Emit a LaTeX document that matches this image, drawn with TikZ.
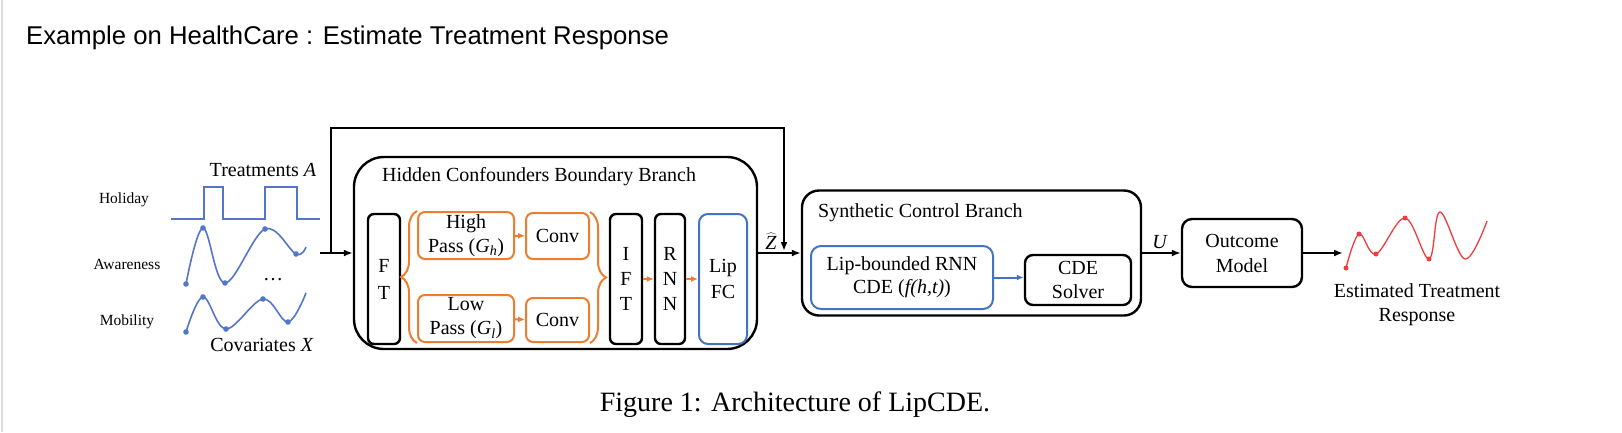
\documentclass[tikz,border=0pt]{standalone}
\usepackage{fontspec}
\setmainfont{Liberation Serif}
\newfontfamily\titlefont{Liberation Sans}
\usetikzlibrary{arrows.meta,decorations.pathreplacing}

\definecolor{lcorange}{RGB}{237,125,49}
\definecolor{lcblue}{RGB}{68,114,196}
\definecolor{lccurve}{RGB}{84,118,200}
\definecolor{lcred}{RGB}{240,60,60}

\tikzset{
    >={Latex[length=9pt,width=7pt]},
    blk/.style={draw, line width=2.4pt, rounded corners=7pt, align=center, inner sep=0pt,
        font=\fontsize{20}{24}\selectfont},
    obox/.style={blk, draw=lcorange, line width=2pt},
    bbox/.style={blk, draw=lcblue, line width=2pt},
    branch/.style={blk, rounded corners=30pt},
    lbl/.style={inner sep=0pt, font=\fontsize{20}{24}\selectfont},
    sidelbl/.style={inner sep=0pt, font=\fontsize{15.5}{18}\selectfont},
    wave/.style={lccurve, line width=1.6pt},
    flow/.style={->, line width=2.2pt},
    oflow/.style={->, lcorange, line width=2pt, >={Latex[length=7pt,width=6pt]}},
    bflow/.style={->, lcblue, line width=2pt, >={Latex[length=7pt,width=6pt]}},
    obrace/.style={lcorange, line width=2pt, decorate, decoration={brace, amplitude=16pt}},
}

\begin{document}
\begin{tikzpicture}[x=1pt, y=-1pt]
    \useasboundingbox (0,0) rectangle (1622,432);
    \draw[gray!25, line width=2pt] (2,0) -- (2,432);

    \node[anchor=west, inner sep=0pt, font=\titlefont\fontsize{25.7}{30}\selectfont] (title) at (26,38)
        {Example on HealthCare : Estimate Treatment Response};

    % inputs
    \node[lbl] (treat) at (263,170) {Treatments \textit{A}};
    \node[sidelbl] (holiday) at (124,200) {Holiday};
    \node[sidelbl] (aware) at (127,264) {Awareness};
    \node[sidelbl] (mobil) at (127,322) {Mobility};
    \node[lbl] (covar) at (262,345) {Covariates \textit{X}};
    \node[lbl] (more) at (273,280) {\dots};

    \draw[wave] (171,219) -- (204,219) -- (204,187) -- (223,187) -- (223,219)
        -- (265,219) -- (265,187) -- (297,187) -- (297,219) -- (320,219);
    \draw[wave] plot[smooth, tension=0.6] coordinates
        {(186,284) (203,228) (225,283) (265,229) (296,254) (306,247)};
    \draw[wave] plot[smooth, tension=0.6] coordinates
        {(186,332) (203,297) (226,329) (263,299) (288,322) (306,293)};
    \foreach \p in {(186,284),(203,228),(225,283),(265,229),(296,254),
                    (186,332),(203,297),(226,329),(263,299),(288,322)}
        \fill[lccurve] \p circle (2.8pt);

    % hidden confounders branch
    \node[branch, minimum width=403pt, minimum height=192pt] (hidden) at (555.5,253) {};
    \node[lbl, anchor=west] (hiddentitle) at (382,177) {Hidden Confounders Boundary Branch};
    \node[blk, rounded corners=6pt, minimum width=32pt, minimum height=130pt,
        font=\fontsize{20}{27}\selectfont] (ft) at (384,279) {F\\T};
    \node[obox, minimum width=96pt, minimum height=47pt] (highpass) at (466,235.5)
        {High\\Pass (\textit{G}\textsubscript{\textit{h}})};
    \node[obox, minimum width=63pt, minimum height=46pt] (convh) at (557.5,236) {Conv};
    \node[obox, minimum width=96pt, minimum height=47pt] (lowpass) at (466,318.5)
        {Low\\Pass (\textit{G}\textsubscript{\textit{l}})};
    \node[obox, minimum width=63pt, minimum height=44pt] (convl) at (557.5,320) {Conv};
    \node[blk, rounded corners=6pt, minimum width=32pt, minimum height=130pt,
        font=\fontsize{20}{25}\selectfont] (ift) at (626,279) {I\\F\\T};
    \node[blk, rounded corners=6pt, minimum width=30pt, minimum height=130pt,
        font=\fontsize{20}{25}\selectfont] (rnn) at (670,279) {R\\N\\N};
    \node[bbox, rounded corners=9pt, minimum width=48pt, minimum height=130pt,
        font=\fontsize{20}{26}\selectfont] (lipfc) at (723,279) {Lip\\FC};

    \draw[obrace] (lowpass.south west) -- (highpass.north west);
    \draw[obrace] (convh.north east) -- (convl.south east);
    \draw[oflow] (highpass) -- (convh);
    \draw[oflow] (lowpass) -- (convl);
    \draw[oflow] (ift) -- (rnn);
    \draw[oflow] (rnn) -- (lipfc);

    % synthetic control branch
    \node[blk, rounded corners=17pt, minimum width=339pt, minimum height=125pt] (synth) at (971.5,253) {};
    \node[lbl, anchor=west] (synthtitle) at (818,213) {Synthetic Control Branch};
    \node[bbox, rounded corners=10pt, minimum width=182pt, minimum height=63pt,
        font=\fontsize{20}{23}\selectfont] (lipcde) at (902,277.5)
        {Lip-bounded RNN\\CDE (\textit{f(h,t)})};
    \node[blk, rounded corners=8pt, minimum width=106pt, minimum height=50pt] (solver) at (1078,280)
        {CDE\\Solver};
    \draw[bflow] (lipcde.east) -- (lipcde.east -| solver.west);

    % outcome
    \node[blk, rounded corners=10pt, minimum width=120pt, minimum height=68pt,
        font=\fontsize{20}{25}\selectfont] (outcome) at (1242,253) {Outcome\\Model};
    \node[lbl, align=center] (resp) at (1417,305) {Estimated Treatment\\Response};

    % connectors
    \coordinate (instart) at (320,253);
    \coordinate (split) at (331,253);
    \coordinate (fbtop) at (784,128);
    \coordinate (respin) at (1343,253);
    \draw[flow] (instart) -- (hidden.west);
    \draw[flow, shorten >=2pt] (split) |- (fbtop) -- (fbtop |- hidden.east);
    \draw[flow] (hidden.east) -- (synth.west);
    \draw[flow] (synth.east) -- (outcome.west);
    \draw[flow] (outcome.east) -- (respin);
    \node[lbl] (zhat) at (771,241) {$\widehat{\textit{Z}}$};
    \node[lbl] (ulbl) at (1160,242) {\textit{U}};

    % estimated response
    \draw[lcred, line width=1.3pt] plot[smooth, tension=0.6] coordinates
        {(1346,268) (1359,234) (1376,254) (1405,218) (1429,259) (1440,212) (1465,259) (1487,221)};
    \foreach \p in {(1346,268),(1359,234),(1376,254),(1405,218),(1429,259)}
        \fill[lcred] \p circle (2.5pt);

    \node[inner sep=0pt, font=\fontsize{28}{32}\selectfont] (caption) at (795,405)
        {Figure 1: Architecture of LipCDE.};
\end{tikzpicture}
\end{document}
